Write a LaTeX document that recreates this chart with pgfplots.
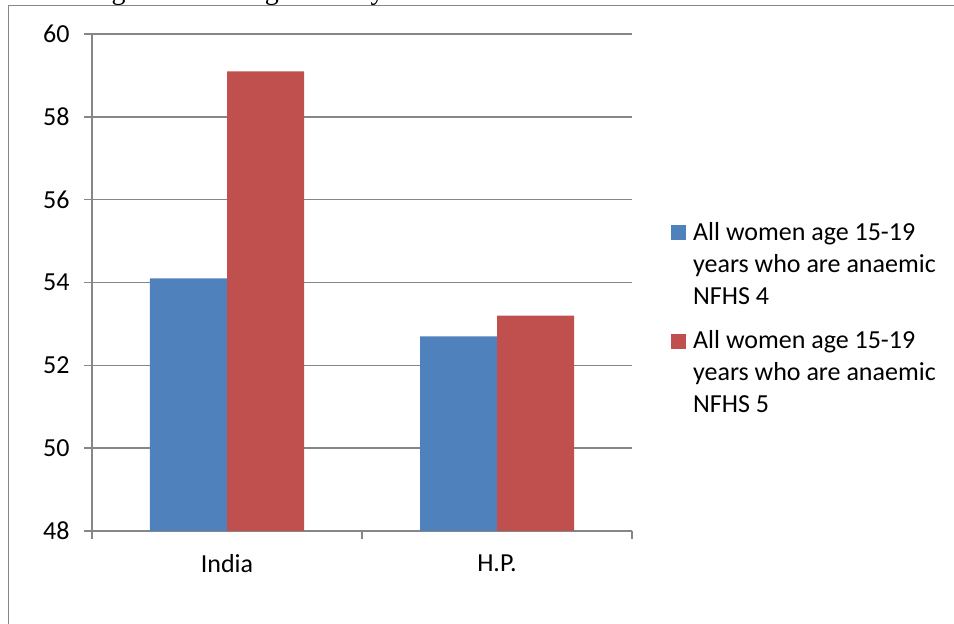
\documentclass[border=0pt]{standalone}
\usepackage{pgfplots}
\pgfplotsset{compat=1.18}
\usepackage{fontspec}
\setmainfont{Carlito}
\newfontfamily\captionserif{Liberation Serif}
\definecolor{barblue}{HTML}{4F81BD}
\definecolor{barred}{HTML}{C0504D}
\definecolor{rulegray}{HTML}{868686}
\newcommand{\entry}[1]{\parbox[t]{260pt}{\raggedright #1}}
\begin{document}
\begin{tikzpicture}[x=1pt,y=1pt]
\path[use as bounding box] (0,0) rectangle (954,624);
% caption line above the frame (only its lowest part falls inside the page)
\node[font=\captionserif\fontsize{28}{32}\selectfont, anchor=base east, inner sep=0pt] at (111.5,624.5) {Anaemia amon};
\node[font=\captionserif\fontsize{28}{32}\selectfont, anchor=base west, inner sep=0pt] at (111.5,624.5) {g women of age 15-19 years as};
% frame around the chart
\draw[rulegray, line width=1.5pt] (8.5,-20) |- (980,618.3);
\begin{axis}[
  at={(92pt,93pt)}, anchor=south west,
  scale only axis, width=540pt, height=497pt,
  xmin=0, xmax=2, ymin=48, ymax=60,
  ybar=0pt, bar width=77pt,
  ytick={48,50,...,60},
  xtick={0,1,2}, xticklabels={},
  extra x ticks={0.5,1.5},
  extra x tick labels={India,H.P.},
  extra x tick style={major tick length=0pt},
  axis x line*=bottom, axis y line*=left,
  axis line style={rulegray, line width=1.5pt, -},
  ymajorgrids, grid style={rulegray, line width=1.5pt},
  major tick style={rulegray, line width=1.5pt},
  tick align=outside, major tick length=8pt,
  /pgf/number format/assume math mode=true,
  tick label style={font=\fontsize{26}{32}\selectfont},
  yticklabel style={xshift=-11pt},
  xticklabel style={yshift=-20pt},
  legend style={at={(1.0722,0.6217)}, anchor=north west, draw=none, fill=none,
    font=\fontsize{26}{32}\selectfont, row sep=89pt, column sep=7pt, inner sep=0pt,
    nodes={inner sep=0pt}},
  legend cell align=left,
  legend image code/.code={\fill[#1, draw=none] (0pt,-8.5pt) rectangle (15pt,6.5pt);},
]
\addplot[fill=barblue, draw=none] coordinates {(0.5,54.1) (1.5,52.7)};
\addplot[fill=barred, draw=none] coordinates {(0.5,59.1) (1.5,53.2)};
\legend{{\entry{All women age 15-19\\years who are anaemic\\NFHS 4}},
        {\entry{All women age 15-19\\years who are anaemic\\NFHS 5}}}
\end{axis}
\end{tikzpicture}
\end{document}
